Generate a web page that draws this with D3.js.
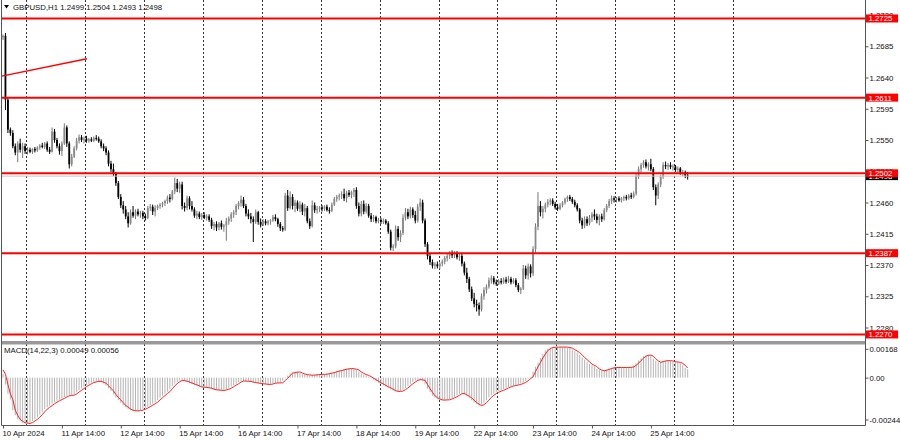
<!DOCTYPE html>
<html><head><meta charset="utf-8">
<script src="https://cdn.jsdelivr.net/npm/d3@7"></script>
<style>
html,body{margin:0;padding:0;background:#fff;}
svg{display:block;}
text{font-family:"Liberation Sans",Arial,sans-serif;font-size:7.8px;}
</style>
</head><body>
<svg id="chart" width="900" height="441"></svg>
<script>
// ---------------- DATA ----------------
const symbolTitle = "GBPUSD,H1  1.2499 1.2504 1.2493 1.2498";
const macdTitle = "MACD(14,22,3) 0.00049 0.00056";

// H1 bars from 10 Apr 2024 14:00 to 26 Apr 05:00 (one value per bar)
const opens = [
1.2698,1.2700,1.2608,1.2565,1.2560,1.2541,1.2532,1.2545,1.2536,1.2541,1.2534,1.2536,1.2533,1.2537,1.2535,1.2539,1.2542,1.2540,1.2545,1.2536,1.2533,1.2562,1.2550,1.2541,
1.2534,1.2545,1.2568,1.2545,1.2515,1.2526,1.2538,1.2549,1.2554,1.2550,1.2552,1.2549,1.2551,1.2549,1.2553,1.2552,1.2548,1.2541,1.2538,1.2532,1.2516,1.2508,1.2501,1.2488,
1.2468,1.2456,1.2450,1.2440,1.2430,1.2446,1.2441,1.2447,1.2443,1.2445,1.2440,1.2438,1.2452,1.2454,1.2447,1.2452,1.2455,1.2457,1.2459,1.2462,1.2467,1.2465,1.2476,1.2488,
1.2480,1.2486,1.2455,1.2452,1.2466,1.2455,1.2450,1.2441,1.2444,1.2439,1.2442,1.2438,1.2440,1.2435,1.2426,1.2429,1.2424,1.2430,1.2425,1.2427,1.2433,1.2437,1.2443,1.2446,
1.2455,1.2459,1.2464,1.2455,1.2444,1.2440,1.2436,1.2432,1.2446,1.2432,1.2428,1.2433,1.2430,1.2433,1.2434,1.2439,1.2436,1.2429,1.2423,1.2421,1.2470,1.2452,1.2468,1.2455,
1.2460,1.2451,1.2457,1.2447,1.2452,1.2433,1.2426,1.2456,1.2449,1.2451,1.2453,1.2451,1.2454,1.2449,1.2448,1.2457,1.2465,1.2468,1.2470,1.2472,1.2466,1.2474,1.2471,1.2475,
1.2478,1.2455,1.2444,1.2458,1.2447,1.2455,1.2441,1.2436,1.2439,1.2433,1.2435,1.2432,1.2434,1.2430,1.2418,1.2395,1.2397,1.2422,1.2410,1.2416,1.2438,1.2446,1.2440,1.2450,
1.2442,1.2434,1.2454,1.2460,1.2434,1.2400,1.2383,1.2374,1.2369,1.2371,1.2368,1.2372,1.2375,1.2380,1.2383,1.2386,1.2384,1.2387,1.2381,1.2383,1.2372,1.2359,1.2350,1.2335,
1.2322,1.2314,1.2312,1.2306,1.2325,1.2334,1.2339,1.2348,1.2351,1.2345,1.2343,1.2347,1.2345,1.2349,1.2346,1.2350,1.2345,1.2348,1.2341,1.2334,1.2336,1.2365,1.2355,1.2368,
1.2358,1.2393,1.2425,1.2455,1.2446,1.2451,1.2457,1.2461,1.2463,1.2458,1.2453,1.2451,1.2456,1.2460,1.2465,1.2468,1.2465,1.2461,1.2456,1.2450,1.2434,1.2427,1.2436,1.2430,
1.2438,1.2443,1.2440,1.2435,1.2440,1.2436,1.2449,1.2455,1.2462,1.2466,1.2464,1.2466,1.2463,1.2466,1.2468,1.2466,1.2470,1.2468,1.2473,1.2498,1.2508,1.2514,1.2518,1.2512,
1.2515,1.2508,1.2482,1.2470,1.2486,1.2497,1.2514,1.2512,1.2514,1.2511,1.2512,1.2507,1.2509,1.2503,1.2504,1.2499
];
const highs = [
1.2702,1.2704,1.2612,1.2568,1.2564,1.2545,1.2548,1.2552,1.2546,1.2545,1.2540,1.2539,1.2538,1.2540,1.2541,1.2544,1.2546,1.2547,1.2548,1.2540,1.2568,1.2566,1.2553,1.2545,
1.2548,1.2574,1.2571,1.2548,1.2530,1.2541,1.2553,1.2558,1.2557,1.2555,1.2556,1.2553,1.2554,1.2555,1.2557,1.2555,1.2551,1.2545,1.2541,1.2535,1.2520,1.2516,1.2504,1.2491,
1.2472,1.2462,1.2455,1.2446,1.2450,1.2455,1.2450,1.2451,1.2448,1.2448,1.2444,1.2455,1.2458,1.2457,1.2456,1.2457,1.2459,1.2461,1.2464,1.2470,1.2472,1.2478,1.2496,1.2494,
1.2490,1.2490,1.2460,1.2470,1.2469,1.2462,1.2453,1.2448,1.2447,1.2445,1.2446,1.2443,1.2443,1.2438,1.2432,1.2433,1.2432,1.2434,1.2429,1.2438,1.2440,1.2446,1.2449,1.2458,
1.2462,1.2470,1.2468,1.2458,1.2450,1.2445,1.2440,1.2450,1.2448,1.2437,1.2436,1.2436,1.2435,1.2436,1.2442,1.2443,1.2438,1.2432,1.2426,1.2474,1.2478,1.2476,1.2472,1.2464,
1.2463,1.2462,1.2460,1.2458,1.2455,1.2437,1.2463,1.2460,1.2455,1.2455,1.2456,1.2456,1.2457,1.2453,1.2460,1.2468,1.2471,1.2473,1.2476,1.2480,1.2477,1.2478,1.2477,1.2481,
1.2482,1.2460,1.2462,1.2463,1.2459,1.2458,1.2445,1.2442,1.2441,1.2438,1.2438,1.2437,1.2436,1.2433,1.2421,1.2400,1.2427,1.2426,1.2420,1.2443,1.2452,1.2451,1.2454,1.2453,
1.2448,1.2458,1.2466,1.2464,1.2437,1.2403,1.2387,1.2378,1.2374,1.2375,1.2374,1.2378,1.2383,1.2386,1.2390,1.2391,1.2390,1.2390,1.2386,1.2386,1.2375,1.2366,1.2353,1.2339,
1.2330,1.2320,1.2316,1.2329,1.2338,1.2342,1.2352,1.2355,1.2354,1.2349,1.2350,1.2351,1.2352,1.2353,1.2354,1.2353,1.2351,1.2351,1.2344,1.2338,1.2370,1.2369,1.2372,1.2371,
1.2397,1.2430,1.2475,1.2462,1.2455,1.2460,1.2465,1.2466,1.2466,1.2461,1.2458,1.2459,1.2462,1.2467,1.2470,1.2471,1.2468,1.2464,1.2459,1.2452,1.2438,1.2440,1.2440,1.2442,
1.2446,1.2450,1.2444,1.2443,1.2444,1.2452,1.2458,1.2465,1.2470,1.2469,1.2468,1.2469,1.2468,1.2470,1.2471,1.2472,1.2474,1.2476,1.2502,1.2512,1.2517,1.2521,1.2522,1.2518,
1.2523,1.2511,1.2486,1.2489,1.2500,1.2518,1.2519,1.2517,1.2518,1.2515,1.2514,1.2512,1.2511,1.2507,1.2506,1.2504
];
const lows = [
1.2694,1.2593,1.2560,1.2556,1.2538,1.2528,1.2518,1.2532,1.2524,1.2530,1.2529,1.2531,1.2530,1.2532,1.2533,1.2536,1.2538,1.2537,1.2533,1.2530,1.2532,1.2546,1.2538,1.2529,
1.2527,1.2543,1.2540,1.2509,1.2512,1.2524,1.2535,1.2545,1.2547,1.2545,1.2546,1.2546,1.2547,1.2547,1.2549,1.2546,1.2538,1.2534,1.2528,1.2512,1.2504,1.2498,1.2484,1.2465,
1.2452,1.2444,1.2436,1.2424,1.2428,1.2438,1.2436,1.2440,1.2438,1.2436,1.2434,1.2436,1.2448,1.2442,1.2440,1.2449,1.2451,1.2453,1.2455,1.2458,1.2460,1.2463,1.2472,1.2475,
1.2474,1.2450,1.2447,1.2449,1.2450,1.2447,1.2438,1.2436,1.2436,1.2435,1.2436,1.2434,1.2432,1.2422,1.2420,1.2419,1.2420,1.2421,1.2418,1.2405,1.2428,1.2432,1.2438,1.2442,
1.2450,1.2454,1.2452,1.2440,1.2436,1.2430,1.2403,1.2429,1.2428,1.2424,1.2426,1.2427,1.2427,1.2428,1.2432,1.2433,1.2425,1.2419,1.2418,1.2419,1.2448,1.2450,1.2450,1.2446,
1.2448,1.2446,1.2442,1.2440,1.2430,1.2422,1.2424,1.2445,1.2444,1.2446,1.2447,1.2448,1.2447,1.2444,1.2446,1.2455,1.2461,1.2463,1.2465,1.2462,1.2460,1.2468,1.2466,1.2468,
1.2451,1.2440,1.2440,1.2443,1.2444,1.2438,1.2432,1.2432,1.2430,1.2430,1.2429,1.2429,1.2428,1.2415,1.2391,1.2390,1.2394,1.2405,1.2403,1.2413,1.2434,1.2436,1.2437,1.2438,
1.2430,1.2431,1.2448,1.2430,1.2396,1.2378,1.2370,1.2365,1.2364,1.2365,1.2364,1.2368,1.2371,1.2375,1.2379,1.2380,1.2380,1.2378,1.2376,1.2368,1.2355,1.2344,1.2331,1.2318,
1.2309,1.2303,1.2297,1.2303,1.2320,1.2329,1.2336,1.2343,1.2342,1.2340,1.2341,1.2342,1.2343,1.2343,1.2344,1.2342,1.2343,1.2338,1.2331,1.2328,1.2334,1.2350,1.2349,1.2352,
1.2354,1.2388,1.2420,1.2440,1.2437,1.2446,1.2453,1.2456,1.2455,1.2450,1.2448,1.2449,1.2453,1.2457,1.2461,1.2462,1.2458,1.2453,1.2447,1.2430,1.2422,1.2423,1.2426,1.2427,
1.2432,1.2435,1.2430,1.2427,1.2432,1.2434,1.2446,1.2452,1.2458,1.2460,1.2460,1.2461,1.2460,1.2462,1.2463,1.2464,1.2465,1.2466,1.2470,1.2494,1.2503,1.2510,1.2509,1.2506,
1.2505,1.2478,1.2456,1.2465,1.2482,1.2494,1.2508,1.2507,1.2508,1.2506,1.2504,1.2503,1.2500,1.2498,1.2495,1.2493
];
const closes = [
1.2700,1.2608,1.2565,1.2560,1.2541,1.2532,1.2545,1.2536,1.2541,1.2534,1.2536,1.2533,1.2537,1.2535,1.2539,1.2542,1.2540,1.2545,1.2536,1.2533,1.2562,1.2550,1.2541,1.2534,
1.2545,1.2568,1.2545,1.2515,1.2526,1.2538,1.2549,1.2554,1.2550,1.2552,1.2549,1.2551,1.2549,1.2553,1.2552,1.2548,1.2541,1.2538,1.2532,1.2516,1.2508,1.2501,1.2488,1.2468,
1.2456,1.2450,1.2440,1.2430,1.2446,1.2441,1.2447,1.2443,1.2445,1.2440,1.2438,1.2452,1.2454,1.2447,1.2452,1.2455,1.2457,1.2459,1.2462,1.2467,1.2465,1.2476,1.2488,1.2480,
1.2486,1.2455,1.2452,1.2466,1.2455,1.2450,1.2441,1.2444,1.2439,1.2442,1.2438,1.2440,1.2435,1.2426,1.2429,1.2424,1.2430,1.2425,1.2427,1.2433,1.2437,1.2443,1.2446,1.2455,
1.2459,1.2464,1.2455,1.2444,1.2440,1.2436,1.2432,1.2446,1.2432,1.2428,1.2433,1.2430,1.2433,1.2434,1.2439,1.2436,1.2429,1.2423,1.2421,1.2470,1.2452,1.2468,1.2455,1.2460,
1.2451,1.2457,1.2447,1.2452,1.2433,1.2426,1.2456,1.2449,1.2451,1.2453,1.2451,1.2454,1.2449,1.2448,1.2457,1.2465,1.2468,1.2470,1.2472,1.2466,1.2474,1.2471,1.2475,1.2478,
1.2455,1.2444,1.2458,1.2447,1.2455,1.2441,1.2436,1.2439,1.2433,1.2435,1.2432,1.2434,1.2430,1.2418,1.2395,1.2397,1.2422,1.2410,1.2416,1.2438,1.2446,1.2440,1.2450,1.2442,
1.2434,1.2454,1.2460,1.2434,1.2400,1.2383,1.2374,1.2369,1.2371,1.2368,1.2372,1.2375,1.2380,1.2383,1.2386,1.2384,1.2387,1.2381,1.2383,1.2372,1.2359,1.2350,1.2335,1.2322,
1.2314,1.2312,1.2306,1.2325,1.2334,1.2339,1.2348,1.2351,1.2345,1.2343,1.2347,1.2345,1.2349,1.2346,1.2350,1.2345,1.2348,1.2341,1.2334,1.2336,1.2365,1.2355,1.2368,1.2358,
1.2393,1.2425,1.2455,1.2446,1.2451,1.2457,1.2461,1.2463,1.2458,1.2453,1.2451,1.2456,1.2460,1.2465,1.2468,1.2465,1.2461,1.2456,1.2450,1.2434,1.2427,1.2436,1.2430,1.2438,
1.2443,1.2440,1.2435,1.2440,1.2436,1.2449,1.2455,1.2462,1.2466,1.2464,1.2466,1.2463,1.2466,1.2468,1.2466,1.2470,1.2468,1.2473,1.2498,1.2508,1.2514,1.2518,1.2512,1.2515,
1.2508,1.2482,1.2470,1.2486,1.2497,1.2514,1.2512,1.2514,1.2511,1.2512,1.2507,1.2509,1.2503,1.2504,1.2499,1.2498
];

// MACD(14,22,3) in units of 0.00001
const macdMain = [
20,-40,-95,-128,-190,-220,-243,-254,-263,-265,-267,-262,-253,-243,-231,-216,-199,-184,-173,-163,-152,-143,-135,-128,
-121,-113,-106,-104,-102,-95,-84,-74,-64,-53,-44,-36,-29,-25,-22,-22,-27,-33,-47,-62,-77,-98,-116,-130,
-146,-162,-172,-183,-190,-193,-194,-192,-190,-184,-177,-169,-161,-152,-143,-130,-117,-105,-93,-82,-65,-48,-35,-24,
-17,-17,-21,-26,-31,-37,-42,-48,-54,-56,-57,-59,-62,-67,-71,-72,-74,-75,-72,-68,-62,-53,-44,-36,
-26,-20,-20,-21,-22,-26,-29,-31,-34,-36,-37,-39,-40,-37,-33,-31,-31,-30,-17,-4,12,26,29,32,
33,27,21,18,16,14,15,16,18,19,19,20,23,26,29,34,38,41,45,49,51,53,52,49,
45,33,25,18,13,6,-3,-12,-21,-30,-37,-45,-53,-59,-68,-76,-80,-81,-78,-70,-60,-48,-36,-26,
-16,-12,-13,-16,-40,-65,-85,-105,-117,-124,-130,-131,-130,-129,-124,-118,-111,-103,-94,-92,-100,-109,-118,-132,
-145,-155,-163,-158,-146,-132,-115,-103,-93,-85,-79,-74,-67,-60,-54,-49,-46,-43,-40,-34,-28,-18,-6,5,
35,63,88,115,137,158,168,176,177,178,178,178,178,178,175,172,163,155,146,132,118,105,92,79,
71,65,50,44,40,43,48,53,57,59,59,59,59,59,59,60,62,72,84,100,113,125,130,131,
125,110,98,89,93,97,99,99,97,93,91,89,83,72,56,49
];
const macdSignal = [
45,20,-40,-95,-128,-190,-220,-243,-254,-263,-265,-267,-262,-253,-243,-231,-216,-199,-184,-173,-163,-152,-143,-135,
-128,-121,-113,-106,-104,-102,-95,-84,-74,-64,-53,-44,-36,-29,-25,-22,-22,-27,-33,-47,-62,-77,-98,-116,
-130,-146,-162,-172,-183,-190,-193,-194,-192,-190,-184,-177,-169,-161,-152,-143,-130,-117,-105,-93,-82,-65,-48,-35,
-24,-17,-17,-21,-26,-31,-37,-42,-48,-54,-56,-57,-59,-62,-67,-71,-72,-74,-75,-72,-68,-62,-53,-44,
-36,-26,-20,-20,-21,-22,-26,-29,-31,-34,-36,-37,-39,-40,-37,-33,-31,-31,-30,-17,-4,12,26,29,
32,33,27,21,18,16,14,15,16,18,19,19,20,23,26,29,34,38,41,45,49,51,53,52,
49,45,33,25,18,13,6,-3,-12,-21,-30,-37,-45,-53,-59,-68,-76,-80,-81,-78,-70,-60,-48,-36,
-26,-16,-12,-13,-16,-40,-65,-85,-105,-117,-124,-130,-131,-130,-129,-124,-118,-111,-103,-94,-92,-100,-109,-118,
-132,-145,-155,-163,-158,-146,-132,-115,-103,-93,-85,-79,-74,-67,-60,-54,-49,-46,-43,-40,-34,-28,-18,-6,
5,35,63,88,115,137,158,168,176,177,178,178,178,178,178,175,172,163,155,146,132,118,105,92,
79,71,65,50,44,40,43,48,53,57,59,59,59,59,59,59,60,62,72,84,100,113,125,130,
131,125,110,98,89,93,97,99,99,97,93,91,89,83,72,56
];

const levelPrices = [1.2725, 1.2611, 1.2502, 1.2387, 1.2270];
const bidPrice = 1.2498;
const priceTicks = [1.2730,1.2685,1.2640,1.2595,1.2550,1.2505,1.2460,1.2415,1.2370,1.2325,1.2280];
const macdTickValues = [0.00168, 0, -0.00244];
const macdTickLabels = ["0.00168", "0.00", "-0.00244"];
const timeLabels = ["10 Apr 2024","11 Apr 14:00","12 Apr 14:00","15 Apr 14:00","16 Apr 14:00","17 Apr 14:00",
                    "18 Apr 14:00","19 Apr 14:00","22 Apr 14:00","23 Apr 14:00","24 Apr 14:00","25 Apr 14:00"];
const timeLabelBars = [0,24,48,72,96,120,144,168,192,216,240,264];
const separatorBars = [10,34,58,82,106,130,154,178,202,226,250,274,298];
const trendBars = [-0.5, 34.2];
const trendPrices = [1.2642, 1.2667];

// ---------------- LAYOUT ----------------
const svg = d3.select("#chart");
const L = 1.5, R = 865.5;
const mainBottom = 341;
const macdBottom = 425.5;

const x = d3.scaleLinear().domain([0, 279]).range([3, 3 + 279 * 2.454]);
const y = d3.scaleLinear().domain([1.2280, 1.2730]).range([327.5, 15]);
const ym = d3.scaleLinear().domain([-0.00244, 0.00168]).range([419.5, 348.8]);

// separators (dashed vertical lines)
svg.append("g").selectAll("line").data(separatorBars).join("line")
  .attr("x1", d => Math.round(x(d) - 1.3) + 0.5).attr("x2", d => Math.round(x(d) - 1.3) + 0.5)
  .attr("y1", 0).attr("y2", macdBottom)
  .attr("stroke", "#333").attr("stroke-width", 1).attr("stroke-dasharray", "2,2");

// MACD histogram
svg.append("g").selectAll("line").data(macdMain).join("line")
  .attr("x1", (d, i) => x(i)).attr("x2", (d, i) => x(i))
  .attr("y1", ym(0)).attr("y2", d => ym(d * 1e-5))
  .attr("stroke", "#b4b4b4").attr("stroke-width", 1);
// MACD signal
svg.append("path").datum(macdSignal)
  .attr("d", d3.line().x((d, i) => x(i)).y(d => ym(d * 1e-5)))
  .attr("fill", "none").attr("stroke", "#ff2020").attr("stroke-width", 1);

// Candles
const bars = closes.map((c, i) => ({ i, o: opens[i], h: highs[i], l: lows[i], c }));
const cg = svg.append("g");
cg.selectAll("line").data(bars).join("line")
  .attr("x1", d => x(d.i)).attr("x2", d => x(d.i))
  .attr("y1", d => y(d.h)).attr("y2", d => y(d.l))
  .attr("stroke", d => d.c >= d.o ? "#777" : "#000").attr("stroke-width", 1);
cg.selectAll("rect").data(bars).join("rect")
  .attr("x", d => x(d.i) - 0.9).attr("width", 1.8)
  .attr("y", d => y(Math.max(d.o, d.c)))
  .attr("height", d => Math.max(1, Math.abs(y(d.o) - y(d.c))))
  .attr("fill", d => d.c >= d.o ? "#8a8a8a" : "#000");

// bid line
svg.append("line").attr("x1", L).attr("x2", R).attr("y1", y(bidPrice)).attr("y2", y(bidPrice))
  .attr("stroke", "#c8c8c8").attr("stroke-width", 1);

// horizontal levels
svg.append("g").selectAll("line").data(levelPrices).join("line")
  .attr("x1", L).attr("x2", R).attr("y1", d => y(d)).attr("y2", d => y(d))
  .attr("stroke", "#ff0000").attr("stroke-width", 2);

// trend line
svg.append("line")
  .attr("x1", x(trendBars[0])).attr("y1", y(trendPrices[0]))
  .attr("x2", x(trendBars[1])).attr("y2", y(trendPrices[1]))
  .attr("stroke", "#ff0000").attr("stroke-width", 1.5);

// frame
svg.append("rect").attr("x", L).attr("y", mainBottom).attr("width", R - L).attr("height", 3.5).attr("fill", "#999");
svg.append("line").attr("x1", L).attr("x2", L).attr("y1", 0).attr("y2", macdBottom).attr("stroke", "#555");
svg.append("line").attr("x1", R).attr("x2", R).attr("y1", 0).attr("y2", macdBottom).attr("stroke", "#555");
svg.append("line").attr("x1", L).attr("x2", R).attr("y1", macdBottom).attr("y2", macdBottom).attr("stroke", "#555");

// right price axis
const pAxis = svg.append("g").attr("transform", `translate(${R},0)`)
  .call(d3.axisRight(y).tickValues(priceTicks).tickSize(3).tickPadding(1).tickFormat(d3.format(".4f")));
pAxis.select(".domain").remove();
pAxis.selectAll("text").attr("fill", "#111").style("font-size", "7.8px");
pAxis.selectAll("line").attr("stroke", "#555");

// bid label (black)
const bidG = svg.append("g").attr("transform", `translate(${R},${y(bidPrice)})`);
bidG.append("rect").attr("x", 0.5).attr("y", -4).attr("width", 32).attr("height", 8).attr("fill", "#000");
bidG.append("text").attr("x", 3).attr("y", 3).attr("fill", "#fff").text(d3.format(".4f")(bidPrice));

// level labels (red)
const lvG = svg.append("g").selectAll("g").data(levelPrices).join("g")
  .attr("transform", d => `translate(${R},${y(d)})`);
lvG.append("rect").attr("x", 0.5).attr("y", -4).attr("width", 32).attr("height", 8).attr("fill", "#ff0000");
lvG.append("text").attr("x", 3).attr("y", 3).attr("fill", "#fff").text(d => d3.format(".4f")(d));

// MACD axis
const mAxis = svg.append("g").attr("transform", `translate(${R},0)`)
  .call(d3.axisRight(ym).tickValues(macdTickValues).tickSize(3).tickPadding(1)
    .tickFormat((d, i) => macdTickLabels[i]));
mAxis.select(".domain").remove();
mAxis.selectAll("text").attr("fill", "#111").style("font-size", "7.8px");
mAxis.selectAll("line").attr("stroke", "#555");

// time axis
const tAxis = svg.append("g").attr("transform", `translate(0,${macdBottom})`)
  .call(d3.axisBottom(x).tickValues(timeLabelBars).tickSize(3).tickPadding(2)
    .tickFormat((d, i) => timeLabels[i]));
tAxis.select(".domain").remove();
tAxis.selectAll("text").attr("text-anchor", "start").attr("dx", "-1").attr("fill", "#111").style("font-size", "7.8px");
tAxis.selectAll("line").attr("stroke", "#555");

// titles
svg.append("path").attr("d", "M4,5 L9,5 L6.5,8.5 Z").attr("fill", "#000");
svg.append("text").attr("x", 13).attr("y", 10).attr("fill", "#111").text(symbolTitle);
svg.append("text").attr("x", 4).attr("y", 353).attr("fill", "#111").text(macdTitle);
</script>
</body></html>
